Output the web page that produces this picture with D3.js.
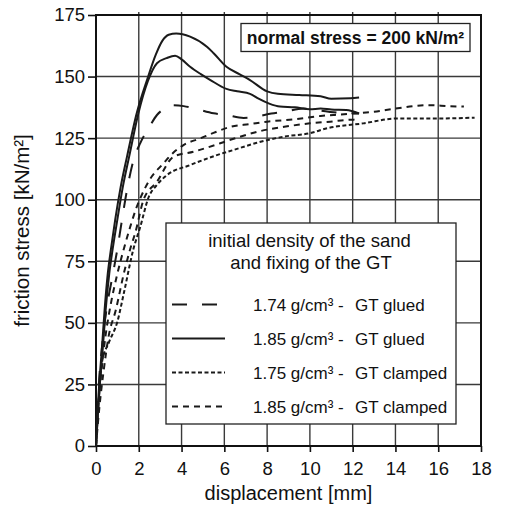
<!DOCTYPE html>
<html>
<head>
<meta charset="utf-8">
<script src="https://cdn.jsdelivr.net/npm/d3@7"></script>
<style>
  body { margin: 0; background: #fff; }
  svg { display: block; font-family: "Liberation Sans", Arial, sans-serif; }
</style>
</head>
<body>
<div id="chart"></div>
<script>
// displacement [mm] / friction stress [kN/m²]
let xTicks = [0, 2, 4, 6, 8, 10, 12, 14, 16, 18]
let yTicks = [0, 25, 50, 75, 100, 125, 150, 175]

// 1.74 g/cm³ - GT glued (long dash)
let glued174X = [0, 0.1, 0.3, 0.5, 0.75, 1.0, 1.2, 1.45, 1.75, 2.07, 2.46, 2.85, 3.2, 3.5, 4.1, 4.6, 5.5, 6.1, 6.9, 7.5, 8.2, 8.8, 9.7, 10.5, 11.1, 12.3]
let glued174Y = [0, 20, 42, 56, 68, 80, 91, 104, 116, 123, 129, 134.4, 137, 138.4, 138, 137.1, 135.1, 134.4, 133.2, 133.7, 135, 135.7, 137, 136.2, 135.5, 135]

// 1.85 g/cm³ - GT glued (solid, two tests)
let glued185aX = [0, 0.05, 0.15, 0.28, 0.4, 0.55, 0.7, 0.9, 1.15, 1.45, 1.9, 2.4, 2.8, 3.1, 3.4, 3.75, 4.4, 5.2, 5.5, 6.1, 6.7, 7.2, 8.0, 8.5, 9.5, 10.5, 11.0, 11.9, 12.3]
let glued185aY = [0, 10, 25, 40, 55, 70, 80, 92, 105, 117.5, 135, 149, 159, 164.5, 167, 167.5, 166.2, 162, 159.5, 154, 151, 148.6, 144, 143, 142.5, 142, 141, 141.2, 141.5]
let glued185bX = [0, 0.07, 0.18, 0.32, 0.45, 0.62, 0.78, 1.0, 1.25, 1.55, 1.98, 2.42, 2.85, 3.3, 3.7, 4.0, 4.4, 4.9, 5.35, 6.1, 6.6, 7.2, 7.6, 8.1, 8.6, 9.3, 10.0, 10.5, 11.0, 11.7, 12.3]
let glued185bY = [0, 10, 25, 40, 55, 70, 80, 92, 105, 117.5, 135, 148, 155.4, 157.5, 158.5, 157, 154, 151, 148.6, 145, 144, 143, 141, 139, 137.8, 137.5, 136.7, 137, 136.6, 136.4, 135]

// 1.75 g/cm³ - GT clamped (short dash)
let clamped175X = [0, 0.1, 0.28, 0.6, 1.0, 1.3, 1.75, 2.07, 2.46, 2.85, 3.32, 4.41, 5.65, 6.43, 7.52, 8.77, 10.0, 10.8, 12.5, 14.07, 16.1, 17.7]
let clamped175Y = [0, 15, 34, 42, 50.5, 62, 80, 89, 101, 106, 110, 114.1, 118.1, 120.2, 123.1, 125.6, 127, 129, 131, 133, 133, 133.3]

// 1.85 g/cm³ - GT clamped (medium dash, two tests)
let clamped185aX = [0, 0.1, 0.25, 0.45, 0.7, 1.0, 1.3, 1.6, 1.9, 2.07, 2.5, 3.16, 3.6, 4.09, 4.87, 5.6, 6.3, 7.2, 8.0, 9.2, 10.5, 11.1, 12.0, 13.0, 14.0, 15.5, 16.5, 17.2]
let clamped185aY = [0, 15, 30, 45, 58, 70, 80, 89, 97, 100.6, 108, 114.8, 119, 122.2, 124.9, 127.5, 129.6, 130.7, 131.7, 132.6, 134, 134.4, 135, 135.7, 137, 138.4, 138, 137.8]
let clamped185bX = [0, 0.15, 0.35, 0.6, 0.92, 1.3, 1.6, 1.85, 2.22, 2.85, 3.63, 4.56, 5.81, 6.6, 7.7, 8.8, 10.0, 10.95, 12.0, 12.3]
let clamped185bY = [0, 15, 30, 45, 55, 70, 80, 87, 99.9, 107.3, 117.5, 119.5, 122.9, 125.2, 127.9, 129.6, 131, 131.7, 132.5, 132]

let legendLabels = ['1.74 g/cm³ -', '1.85 g/cm³ -', '1.75 g/cm³ -', '1.85 g/cm³ -']
let legendFixing = ['GT glued', 'GT glued', 'GT clamped', 'GT clamped']
let legendDash = ['15,15', null, '4,2.5', '6,5']

let width = 507
let height = 507
let margin = { top: 15, left: 96, right: 26, bottom: 61 }

let svg = d3.select('#chart').append('svg')
  .attr('width', width)
  .attr('height', height)

let x = d3.scaleLinear().domain([0, 18]).range([margin.left, width - margin.right])
let y = d3.scaleLinear().domain([0, 175]).range([height - margin.bottom, margin.top])

// grid
svg.append('g')
  .selectAll('line')
  .data(xTicks.slice(1, -1))
  .enter()
  .append('line')
  .attr('x1', d => x(d)).attr('x2', d => x(d))
  .attr('y1', y(175) - 3).attr('y2', y(0))
  .attr('stroke', '#3a3a3a').attr('stroke-width', 1.4)
svg.append('g')
  .selectAll('line')
  .data(yTicks.slice(1, -1))
  .enter()
  .append('line')
  .attr('x1', x(0)).attr('x2', x(18) + 0)
  .attr('y1', d => y(d)).attr('y2', d => y(d))
  .attr('stroke', '#3a3a3a').attr('stroke-width', 1.4)

// axes
let xAxis = svg.append('g')
  .attr('transform', `translate(0,${y(0)})`)
  .call(d3.axisBottom(x).tickValues(xTicks).tickSize(6).tickPadding(10).tickSizeOuter(0))
let yAxis = svg.append('g')
  .attr('transform', `translate(${x(0)},0)`)
  .call(d3.axisLeft(y).tickValues(yTicks).tickSize(8).tickPadding(3).tickSizeOuter(0))
for (let ax of [xAxis, yAxis]) {
  ax.select('.domain').remove()
  ax.selectAll('.tick line').attr('stroke', '#111').attr('stroke-width', 1.6)
  ax.selectAll('.tick text').attr('font-size', 18.5).attr('fill', '#111')
    .attr('font-family', '"Liberation Sans", Arial, sans-serif')
}

svg.append('rect')
  .attr('x', x(0)).attr('y', y(175))
  .attr('width', x(18) - x(0)).attr('height', y(0) - y(175))
  .attr('fill', 'none').attr('stroke', '#111').attr('stroke-width', 2)

// curves
let line = d3.line()
  .x(d => x(d[0]))
  .y(d => y(d[1]))
  .curve(d3.curveMonotoneX)

let series = [
  { xs: glued174X, ys: glued174Y, dash: legendDash[0] },
  { xs: glued185aX, ys: glued185aY, dash: legendDash[1] },
  { xs: glued185bX, ys: glued185bY, dash: legendDash[1] },
  { xs: clamped175X, ys: clamped175Y, dash: legendDash[2] },
  { xs: clamped185aX, ys: clamped185aY, dash: legendDash[3] },
  { xs: clamped185bX, ys: clamped185bY, dash: legendDash[3] }
]
svg.append('g')
  .selectAll('path')
  .data(series)
  .enter()
  .append('path')
  .attr('d', s => line(s.xs.map((v, i) => [v, s.ys[i]])))
  .attr('fill', 'none')
  .attr('stroke', '#1a1a1a')
  .attr('stroke-width', 2)
  .attr('stroke-dasharray', s => s.dash)

// normal stress box
svg.append('rect')
  .attr('x', 241).attr('y', 23.5).attr('width', 229).attr('height', 28)
  .attr('fill', '#fff').attr('stroke', '#222').attr('stroke-width', 1.3)
svg.append('text')
  .attr('x', 355.5).attr('y', 43.5)
  .attr('text-anchor', 'middle')
  .attr('font-size', 17.5).attr('font-weight', 'bold').attr('fill', '#111')
  .text('normal stress = 200 kN/m²')

// legend
svg.append('rect')
  .attr('x', 166).attr('y', 223).attr('width', 290).attr('height', 201)
  .attr('fill', '#fff').attr('stroke', '#222').attr('stroke-width', 1.3)
svg.append('text')
  .attr('x', 309.5).attr('y', 247)
  .attr('text-anchor', 'middle').attr('font-size', 18.5).attr('fill', '#111')
  .text('initial density of the sand')
svg.append('text')
  .attr('x', 311).attr('y', 268.5)
  .attr('text-anchor', 'middle').attr('font-size', 18.5).attr('fill', '#111')
  .text('and fixing of the GT')

let legendRows = svg.append('g')
  .selectAll('g')
  .data(legendLabels)
  .enter()
  .append('g')
  .attr('transform', (d, i) => `translate(0,${304.5 + i * 34})`)
legendRows.append('line')
  .attr('x1', 172).attr('x2', 225)
  .attr('stroke', '#1a1a1a').attr('stroke-width', 2)
  .attr('stroke-dasharray', (d, i) => legendDash[i])
legendRows.append('text')
  .attr('x', 253).attr('y', 6.5)
  .attr('font-size', 17).attr('fill', '#111')
  .text(d => d)
legendRows.append('text')
  .attr('x', 355).attr('y', 6.5)
  .attr('font-size', 17).attr('fill', '#111')
  .text((d, i) => legendFixing[i])

// axis titles
svg.append('text')
  .attr('x', x(9)).attr('y', 500)
  .attr('text-anchor', 'middle').attr('font-size', 20).attr('fill', '#111')
  .text('displacement [mm]')
svg.append('text')
  .attr('transform', `translate(29,${(y(0) + y(175)) / 2}) rotate(-90)`)
  .attr('text-anchor', 'middle').attr('font-size', 20.5).attr('fill', '#111')
  .text('friction stress [kN/m²]')
</script>
</body>
</html>
